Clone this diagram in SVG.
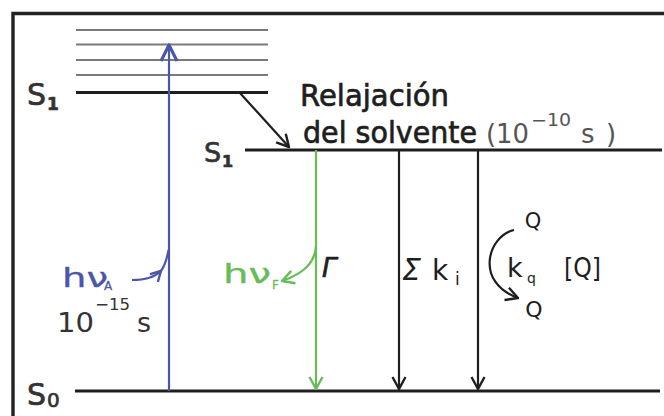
<svg xmlns="http://www.w3.org/2000/svg" width="664" height="416" viewBox="0 0 664 416">
<defs>
<style>
.t{font-family:"DejaVu Sans","Liberation Sans",sans-serif}
.thk{stroke-width:0.7;stroke-linejoin:round}
.thn{stroke-width:0.3;stroke-linejoin:round}
.lvl{stroke:#1e1e1e;stroke-width:3.2;fill:none}
.vib{stroke:#7a7a7a;stroke-width:2;fill:none}
.blk{stroke:#1e1e1e;stroke-width:2.2;fill:none}
.blu{stroke:#4c56a8;stroke-width:2.2;fill:none}
.grn{stroke:#68bc58;stroke-width:2.2;fill:none}
</style>
<marker id="ab" viewBox="0 0 16 16" refX="14" refY="8" markerWidth="16" markerHeight="16" markerUnits="userSpaceOnUse" orient="auto">
<path d="M2,1.5 L14,8 L2,14.5" fill="none" stroke="#1e1e1e" stroke-width="2.4" stroke-linejoin="round"/>
</marker>
<marker id="abl" viewBox="0 0 20 20" refX="18" refY="10" markerWidth="20" markerHeight="20" markerUnits="userSpaceOnUse" orient="auto">
<path d="M2,2 L18,10 L2,18" fill="none" stroke="#4c56a8" stroke-width="3.2" stroke-linejoin="round"/>
</marker>
<marker id="abs" viewBox="0 0 14 14" refX="12" refY="7" markerWidth="14" markerHeight="14" markerUnits="userSpaceOnUse" orient="auto">
<path d="M2,1.5 L12,7 L2,12.5" fill="none" stroke="#4c56a8" stroke-width="2.4" stroke-linejoin="round"/>
</marker>
<marker id="ag" viewBox="0 0 16 16" refX="14" refY="8" markerWidth="16" markerHeight="16" markerUnits="userSpaceOnUse" orient="auto">
<path d="M2,1.5 L14,8 L2,14.5" fill="none" stroke="#68bc58" stroke-width="2.4" stroke-linejoin="round"/>
</marker>
</defs>
<rect width="664" height="416" fill="#fff"/>
<!-- frame -->
<path d="M13,416 L13,13.5 L664,13.5" fill="none" stroke="#222" stroke-width="3.4"/>

<g id="levels">
<line class="vib" x1="76" y1="30" x2="268" y2="30"/>
<line class="vib" x1="76" y1="44.5" x2="268" y2="44.5"/>
<line class="vib" x1="76" y1="60" x2="268" y2="60"/>
<line class="vib" x1="76" y1="75" x2="268" y2="75"/>
<line class="lvl" x1="76" y1="92.5" x2="268" y2="92.5"/>
<line class="lvl" x1="245" y1="150" x2="662" y2="150"/>
<line class="lvl" x1="75" y1="391" x2="660" y2="391"/>
</g>

<g id="labels-states" class="t thk" fill="#333" stroke="#333">
<text x="27" y="105" font-size="30">S</text>
<text x="47" y="110" font-size="17" font-weight="bold">1</text>
<text x="204" y="162" font-size="27">S</text>
<text x="222" y="167" font-size="16" font-weight="bold">1</text>
<text x="27" y="405" font-size="30">S</text>
<text x="47" y="407" font-size="20">0</text>
</g>

<g id="relaxation">
<g class="t thk" fill="#1e1e1e" stroke="#1e1e1e">
<text x="300" y="106" font-size="30" textLength="149" lengthAdjust="spacingAndGlyphs">Relajación</text>
<text x="303" y="143" font-size="30" textLength="174" lengthAdjust="spacingAndGlyphs">del solvente</text>
</g>
<g class="t" fill="#555">
<text x="486" y="143" font-size="26" textLength="43" lengthAdjust="spacingAndGlyphs">(10</text>
<text x="531" y="126" font-size="17" textLength="40" lengthAdjust="spacingAndGlyphs">−10</text>
<text x="581" y="143" font-size="26">s</text>
<text x="606" y="143" font-size="26">)</text>
</g>
</g>

<g id="connectors">
<line class="blu" x1="169" y1="391" x2="169" y2="45" marker-end="url(#abl)"/>
<line class="blk" x1="240" y1="93" x2="289" y2="147" marker-end="url(#ab)"/>
<line class="grn" x1="316" y1="150" x2="316" y2="389" marker-end="url(#ag)"/>
<line class="blk" x1="399" y1="150" x2="399" y2="389" marker-end="url(#ab)"/>
<line class="blk" x1="478" y1="150" x2="478" y2="389" marker-end="url(#ab)"/>
<path class="blu" d="M132,280 C145,280 155,277 161,271" marker-end="url(#abs)"/>
<path class="blu" d="M161,271 Q166,264 168.5,250"/>
<path class="grn" d="M316,246 C315,262 305,273 282,281" marker-end="url(#ag)"/>
<path class="blk" d="M514,230 C488,236 474,282 518,298" marker-end="url(#ab)"/>
</g>

<g id="absorption" class="t thn" fill="#4c56a8" stroke="#4c56a8">
<text x="62" y="287" font-size="26" textLength="46" lengthAdjust="spacingAndGlyphs">hν</text>
<text x="104" y="290" font-size="12">A</text>
</g>
<g id="abs-time" class="t" fill="#333">
<text x="57" y="332" font-size="27" textLength="37" lengthAdjust="spacingAndGlyphs">10</text>
<text x="95" y="310" font-size="16" textLength="35" lengthAdjust="spacingAndGlyphs">−15</text>
<text x="137" y="332" font-size="27">s</text>
</g>

<g id="fluorescence" class="t thn" fill="#68bc58" stroke="#68bc58">
<text x="223" y="283" font-size="26" textLength="48" lengthAdjust="spacingAndGlyphs">hν</text>
<text x="272" y="289" font-size="12">F</text>
</g>
<g id="gamma" class="t thk" fill="#1e1e1e" stroke="#1e1e1e">
<text x="322" y="277" font-size="26" font-style="italic">Γ</text>
</g>

<g id="nonrad" class="t" fill="#1e1e1e">
<text x="402" y="280" font-size="30" font-style="italic">Σ</text>
<text x="432" y="280" font-size="28">k</text>
<text x="455" y="285" font-size="17">i</text>
</g>

<g id="quench" class="t" fill="#1e1e1e">
<text x="533" y="228" font-size="21" text-anchor="middle">Q</text>
<text x="507" y="277" font-size="27">k</text>
<text x="527" y="283" font-size="14">q</text>
<text x="564" y="277" font-size="26" textLength="37" lengthAdjust="spacingAndGlyphs">[Q]</text>
<text x="534" y="317" font-size="22" text-anchor="middle">Q</text>
</g>
</svg>
